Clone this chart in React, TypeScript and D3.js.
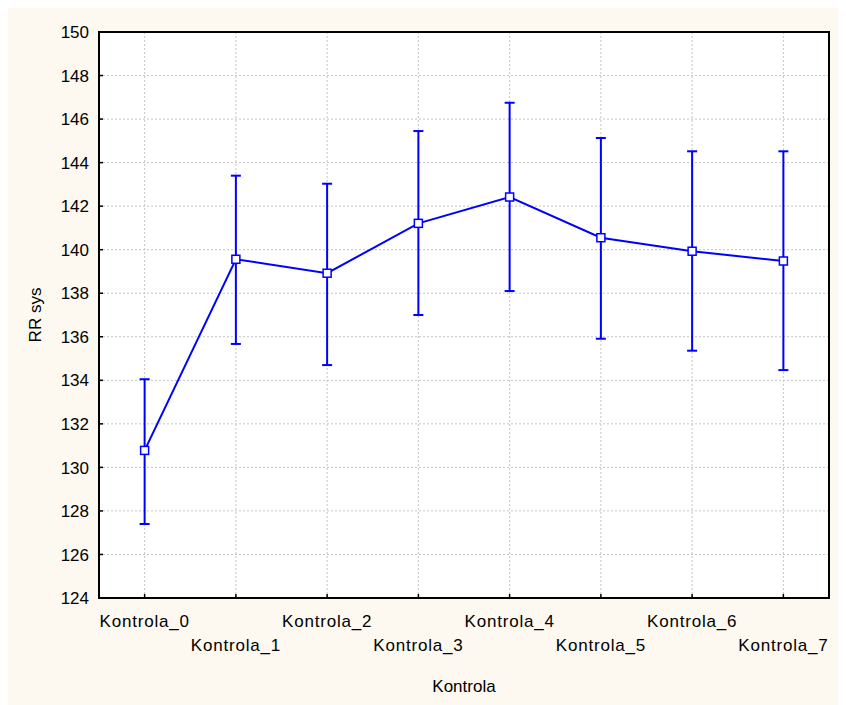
import React from "react";
import * as d3 from "d3";

const categories = ["Kontrola_0", "Kontrola_1", "Kontrola_2", "Kontrola_3", "Kontrola_4", "Kontrola_5", "Kontrola_6", "Kontrola_7"];
const means = [130.78, 139.56, 138.92, 141.21, 142.42, 140.55, 139.93, 139.48];
const upper = [134.05, 143.4, 143.03, 145.45, 146.75, 145.13, 144.52, 144.52];
const lower = [127.4, 135.67, 134.7, 137.0, 138.1, 135.91, 135.36, 134.47];
const yTicks = [124, 126, 128, 130, 132, 134, 136, 138, 140, 142, 144, 146, 148, 150];
const xTitle = "Kontrola";
const yTitle = "RR sys";

export default function App() {
  const W = 838, H = 697;
  // svg origin is at page (8,8)
  const left = 91, top = 24, right = 821, bottom = 590;
  const x = d3.scalePoint<string>().domain(categories).range([left, right]).padding(0.5);
  const y = d3.scaleLinear().domain([124, 150]).range([bottom, top]);
  const blue = "#0000ff";
  const font = "'Liberation Sans', Arial, sans-serif";
  const line = d3.line<number>().x((_, i) => x(categories[i])!).y((d) => y(d));
  return (
    <svg width={W} height={H} style={{ display: "block" }}>
      <rect x={0} y={0} width={W} height={H} fill="#fdf9f0" />
      <rect x={left} y={top} width={right - left} height={bottom - top} fill="#ffffff" />
      {yTicks.map((t) => (
        <line key={"gy" + t} x1={left} x2={right} y1={y(t)} y2={y(t)} stroke="#c4c4c4" strokeDasharray="2,2" strokeWidth={1} />
      ))}
      {categories.map((c) => (
        <line key={"gx" + c} x1={x(c)} x2={x(c)} y1={top} y2={bottom} stroke="#c4c4c4" strokeDasharray="2,2" strokeWidth={1} />
      ))}
      {yTicks.map((t) => (
        <line key={"ty" + t} x1={left} x2={left + 4} y1={y(t)} y2={y(t)} stroke="#000" strokeWidth={1.5} />
      ))}
      {categories.map((c) => (
        <line key={"tx" + c} x1={x(c)} x2={x(c)} y1={bottom} y2={bottom - 4} stroke="#000" strokeWidth={1.5} />
      ))}
      <rect x={left} y={top} width={right - left} height={bottom - top} fill="none" stroke="#000" strokeWidth={2} />
      {yTicks.map((t) => (
        <text key={"ly" + t} x={left - 10} y={y(t)} dy="0.36em" textAnchor="end" fontFamily={font} fontSize={17} fill="#000">
          {t}
        </text>
      ))}
      {categories.map((c, i) => (
        <text key={"lx" + c} x={x(c)} y={i % 2 === 0 ? 619 : 643} textAnchor="middle" fontFamily={font} fontSize={17} letterSpacing={0.8} fill="#000">
          {c}
        </text>
      ))}
      <text x={(left + right) / 2} y={684} textAnchor="middle" fontFamily={font} fontSize={17} fill="#000">{xTitle}</text>
      <text transform={`translate(33,${(top + bottom) / 2}) rotate(-90)`} textAnchor="middle" fontFamily={font} fontSize={17} fill="#000">{yTitle}</text>
      {categories.map((c, i) => (
        <g key={"eb" + c} stroke={blue} strokeWidth={2}>
          <line x1={x(c)} x2={x(c)} y1={y(upper[i])} y2={y(lower[i])} />
          <line x1={x(c)! - 5} x2={x(c)! + 5} y1={y(upper[i])} y2={y(upper[i])} />
          <line x1={x(c)! - 5} x2={x(c)! + 5} y1={y(lower[i])} y2={y(lower[i])} />
        </g>
      ))}
      <path d={line(means) || ""} fill="none" stroke={blue} strokeWidth={2} />
      {categories.map((c, i) => (
        <rect key={"m" + c} x={x(c)! - 4} y={y(means[i]) - 4} width={8} height={8} fill="#fff" stroke={blue} strokeWidth={1.5} />
      ))}
    </svg>
  );
}
